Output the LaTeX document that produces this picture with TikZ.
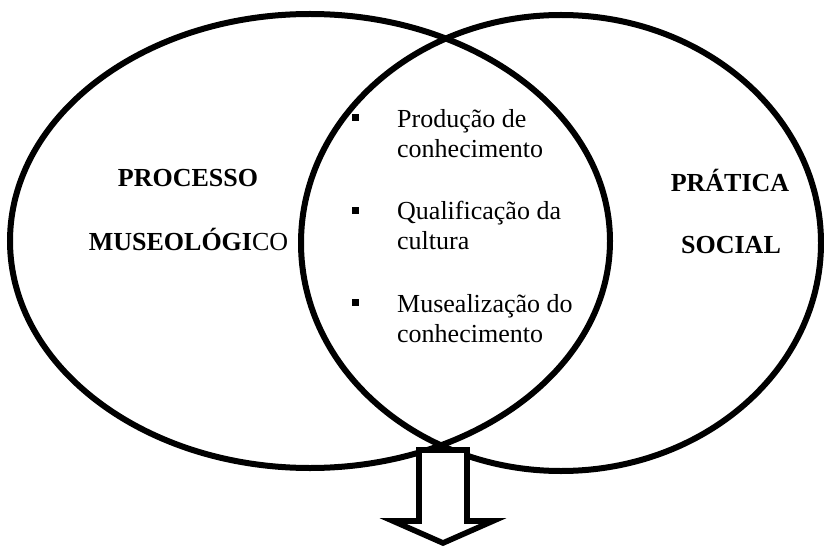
\documentclass[tikz,border=0pt]{standalone}
\usepackage{fontspec}
\setmainfont{Liberation Serif}
\begin{document}
\begin{tikzpicture}[x=1pt,y=-1pt,
  ring/.style={line width=6pt},
  txt/.style={font=\fontsize{26}{30}\selectfont, inner sep=0pt},
  bigword/.style={txt, font=\fontsize{26}{30}\selectfont\bfseries, anchor=base},
  itemtext/.style={txt, anchor=base west},
  bul/.style={fill=black, minimum size=7pt, inner sep=0pt},
  outarrow/.style={line width=5.6pt, fill=white, line join=miter}]
\useasboundingbox[fill=white] (0,0) rectangle (824,548);
% circles
\draw[ring] (310,241) ellipse [x radius=300pt, y radius=227pt];
\draw[ring] (561,243) ellipse [x radius=260pt, y radius=228pt];
% left labels
\node[bigword] (proc) at (188,187) {PROCESSO};
\node[bigword] (muse) at (188.5,250) {MUSEOLÓGI{\mdseries CO}};
% right labels
\node[bigword] (prat) at (730,192) {PRÁTICA};
\node[bigword] (soc) at (731,253) {SOCIAL};
% items
\node[bul] (b1) at (355,118) {};
\node[itemtext] (i1a) at (397,128) {Produção de};
\node[itemtext] (i1b) at (397,158) {conhecimento};
\node[bul] (b2) at (355,210) {};
\node[itemtext] (i2a) at (397,219) {Qualificação da};
\node[itemtext] (i2b) at (397,249) {cultura};
\node[bul] (b3) at (355,302) {};
\node[itemtext] (i3a) at (397,312) {Musealização do};
\node[itemtext] (i3b) at (397,342) {conhecimento};
% arrow
\draw[outarrow] (419,450) -- (467,450) -- (467,521) -- (493,521) -- (443,543)
  -- (393,521) -- (419,521) -- cycle;
\end{tikzpicture}
\end{document}
